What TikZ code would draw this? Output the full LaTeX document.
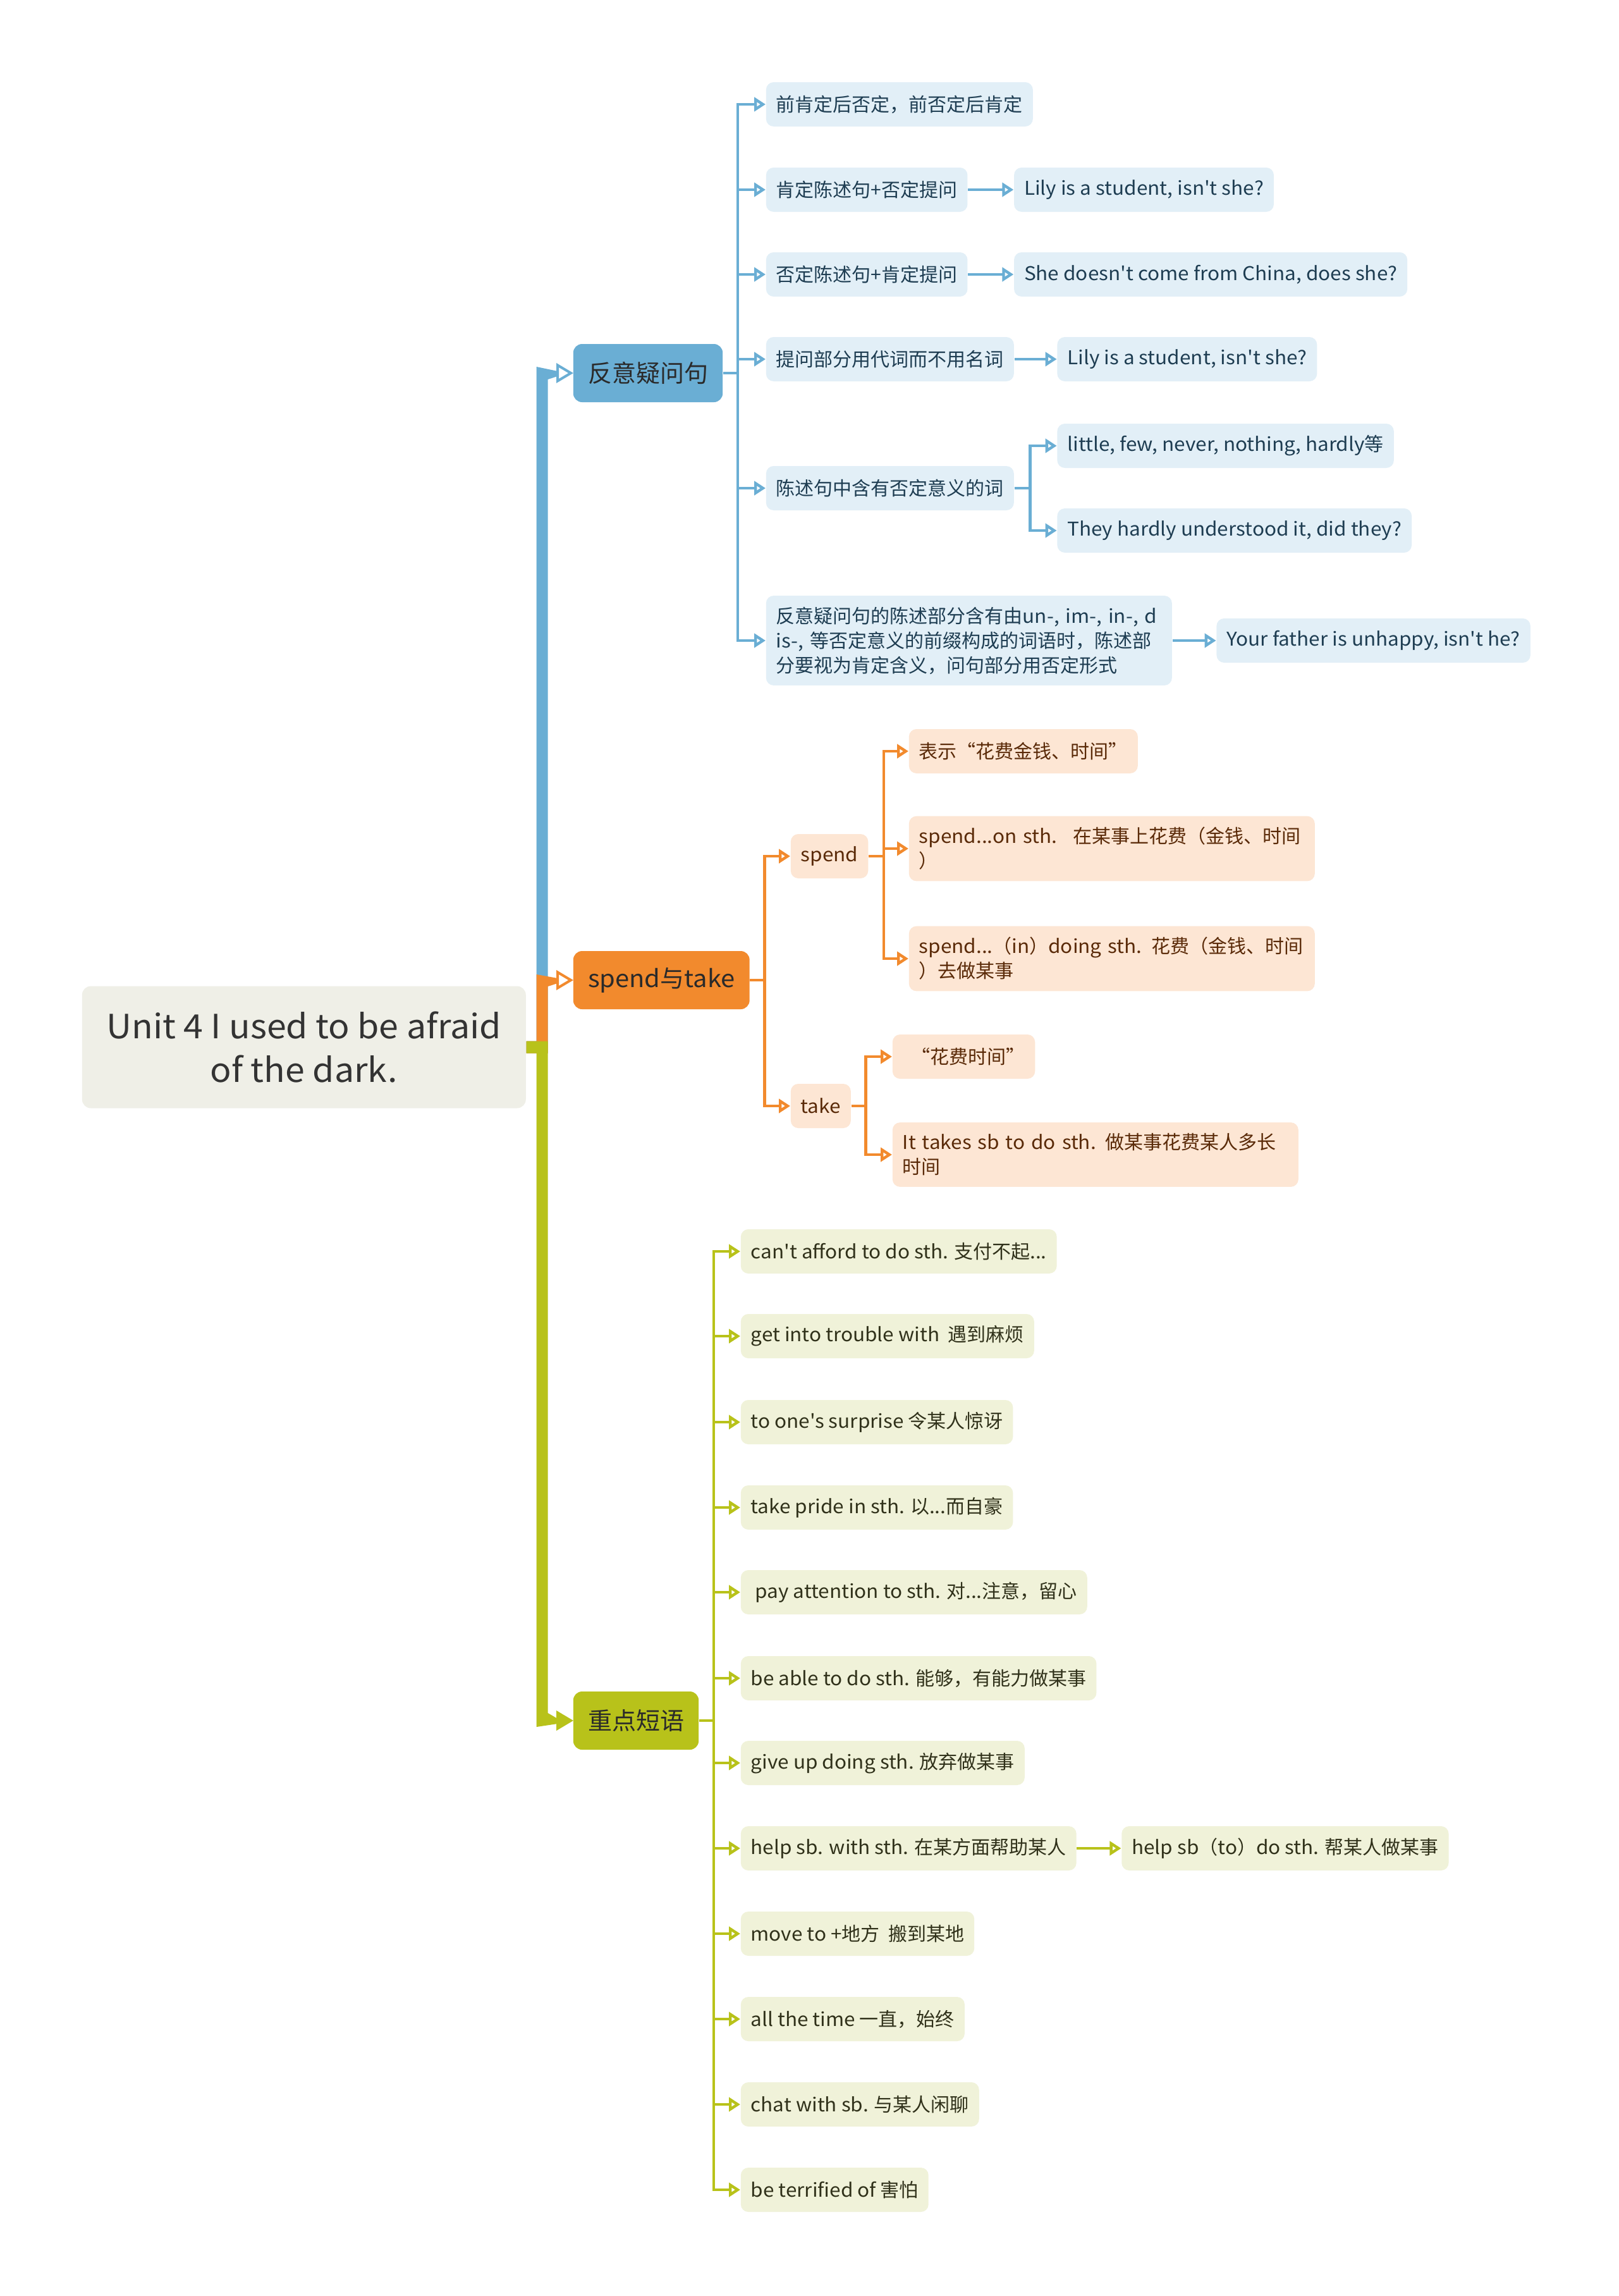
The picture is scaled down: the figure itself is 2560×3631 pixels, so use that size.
\documentclass[tikz,border=0pt]{standalone}
\usepackage{fontspec}
\newfontfamily\nf{Noto Sans CJK SC}
\newfontfamily\lf{Noto Sans CJK SC}[FakeStretch=1.05]
\newcommand\latn[1]{{\lf #1}}
\usetikzlibrary{arrows.meta,calc}
\definecolor{bl}{HTML}{6AAED4}
\definecolor{blfill}{HTML}{E2EFF7}
\definecolor{bltext}{HTML}{1E3D52}
\definecolor{orc}{HTML}{F28A2D}
\definecolor{orfill}{HTML}{FDE6D4}
\definecolor{ortext}{HTML}{5A2A08}
\definecolor{grc}{HTML}{B8C21A}
\definecolor{grfill}{HTML}{F0F2D9}
\definecolor{grtext}{HTML}{30311A}
\definecolor{rootfill}{HTML}{EFEFE7}
\definecolor{roottext}{HTML}{333333}
\definecolor{lvtext}{HTML}{2A2A2A}
\begin{document}
\begin{tikzpicture}[x=0.25pt,y=-0.25pt,
  leaf/.style={rounded corners=3pt, inner xsep=4pt, inner ysep=4.4pt, minimum height=17.5pt, anchor=west, align=left, font=\nf\fontsize{7.5pt}{9.75pt}\selectfont},
  leafb/.style={leaf, fill=blfill, text=bltext},
  leafo/.style={leaf, fill=orfill, text=ortext},
  leafg/.style={leaf, fill=grfill, text=grtext},
  wide/.style={text width=152.5pt},
  lvlone/.style={rounded corners=3.5pt, inner xsep=5.8pt, minimum height=23pt, anchor=west, text=lvtext, font=\nf\fontsize{9.5pt}{12pt}\selectfont},
  rootbox/.style={rounded corners=3.5pt, fill=rootfill, text=roottext, minimum width=175.5pt, minimum height=48.25pt, anchor=west, align=center, font=\nf\fontsize{13.2pt}{17.3pt}\selectfont},
  conn/.style={line width=1.1pt, -{Triangle[length=4.5pt,width=5.5pt,fill=white]}},
  connb/.style={conn, draw=bl},
  conno/.style={conn, draw=orc},
  conng/.style={conn, draw=grc},
  headw/.style={line width=1pt, line join=miter}
]
\fill[white] (0,0) rectangle (2560,3631);
\useasboundingbox (0,0) rectangle (2560,3631);

% root
\node[rootbox] (root) at (129,1656) {\latn{Unit 4 I used to be afraid}\\\latn{of the dark.}};

% level one
\node[lvlone, fill=bl] (q) at (906,590) {反意疑问句};
\node[lvlone, fill=orc] (o) at (906,1550) {\latn{spend}与\latn{take}};
\node[lvlone, fill=grc] (g) at (906,2721) {重点短语};

% blue leaves
\node[leafb] (b1) at (1211,165) {前肯定后否定，前否定后肯定};
\node[leafb] (b2) at (1211,300) {肯定陈述句+否定提问};
\node[leafb] (b3) at (1211,434) {否定陈述句+肯定提问};
\node[leafb] (b4) at (1211,568) {提问部分用代词而不用名词};
\node[leafb] (b5) at (1211,772) {陈述句中含有否定意义的词};
\node[leafb, wide] (b6) at (1211,1013) {\mbox{反意疑问句的陈述部分含有由\latn{un-, im-, in-, d}}\\\mbox{\latn{is-,} 等否定意义的前缀构成的词语时，陈述部}\\分要视为肯定含义，问句部分用否定形式};
\node[leafb] (b2x) at ($(b2.east)+(72,0)$) {\latn{Lily is a student, isn't she?}};
\node[leafb] (b3x) at ($(b3.east)+(72,0)$) {\latn{She doesn't come from China, does she?}};
\node[leafb] (b4x) at ($(b4.east)+(67,0)$) {\latn{Lily is a student, isn't she?}};
\node[leafb] (b5a) at ($(b5.east)+(67,-67)$) {\latn{little, few, never, nothing, hardly}等};
\node[leafb] (b5b) at ($(b5.east)+(67,67)$) {\latn{They hardly understood it, did they?}};
\node[leafb] (b6x) at ($(b6.east)+(69,0)$) {\latn{Your father is unhappy, isn't he?}};

% orange leaves
\node[leafo] (sp) at (1250,1354) {\latn{spend}};
\node[leafo] (tk) at (1250,1749) {\latn{take}};
\node[leafo] (s1) at (1437,1188) {表示“花费金钱、时间”};
\node[leafo, wide] (s2) at (1437,1342) {\mbox{\latn{spend...on sth.}~ 在某事上花费（金钱、时间}\\）};
\node[leafo, wide] (s3) at (1437,1516) {\mbox{\latn{spend...}（\latn{in}）\latn{doing sth.} 花费（金钱、时间}\\）去做某事};
\node[leafo] (t1) at (1411,1671) {~~“花费时间”};
\node[leafo, wide] (t2) at (1411,1826) {\mbox{\latn{It takes sb to do sth.} 做某事花费某人多长}\\时间};

% green leaves
\node[leafg] (p1) at (1171,1979) {\latn{can't afford to do sth.} 支付不起\latn{...}};
\node[leafg] (p2) at (1171,2113) {\latn{get into trouble with}~ 遇到麻烦};
\node[leafg] (p3) at (1171,2249) {\latn{to one's surprise} 令某人惊讶};
\node[leafg] (p4) at (1171,2384) {\latn{take pride in sth.} 以\latn{...}而自豪};
\node[leafg] (p5) at (1171,2518) {~\latn{pay attention to sth.} 对\latn{...}注意，留心};
\node[leafg] (p6) at (1171,2654) {\latn{be able to do sth.} 能够，有能力做某事};
\node[leafg] (p7) at (1171,2788) {\latn{give up doing sth.} 放弃做某事};
\node[leafg] (p8) at (1171,2923) {\latn{help sb. with sth.} 在某方面帮助某人};
\node[leafg] (p9) at (1171,3058) {\latn{move to +}地方~ 搬到某地};
\node[leafg] (p10) at (1171,3193) {\latn{all the time} 一直，始终};
\node[leafg] (p11) at (1171,3328) {\latn{chat with sb.} 与某人闲聊};
\node[leafg] (p12) at (1171,3463) {\latn{be terrified of} 害怕};
\node[leafg] (p8x) at ($(p8.east)+(70,0)$) {\latn{help sb}（\latn{to}）\latn{do sth.} 帮某人做某事};

% thick branches from root
\coordinate (rE) at (root.east);
\fill[bl] ($(rE)+(0,-9.5)$) -- ($(rE)+(16,-9.5)$) -- ($(rE |- q.west)+(16,-10)$)
  -- ($(q.west)+(-24,-3)$) -- ($(q.west)+(-24,5)$) -- ($(rE |- q.west)+(34,10)$)
  -- ($(rE)+(34,9.5)$) -- ($(rE)+(0,9.5)$) -- cycle;
\filldraw[headw, draw=bl, fill=white] ($(q.west)+(-24,-12.5)$) -- ($(q.west)+(-3,0)$) -- ($(q.west)+(-24,12.5)$) -- cycle;
\fill[orc] ($(rE)+(0,-9.5)$) -- ($(rE)+(16,-9.5)$) -- ($(rE |- o.west)+(16,-9)$)
  -- ($(o.west)+(-24,-3)$) -- ($(o.west)+(-24,5)$) -- ($(rE |- o.west)+(34,10)$)
  -- ($(rE)+(34,9.5)$) -- ($(rE)+(0,9.5)$) -- cycle;
\filldraw[headw, draw=orc, fill=white] ($(o.west)+(-24,-12.5)$) -- ($(o.west)+(-3,0)$) -- ($(o.west)+(-24,12.5)$) -- cycle;
\fill[grc] ($(rE)+(0,-9.5)$) -- ($(rE)+(34,-9.5)$) -- ($(rE |- g.west)+(34,-12)$)
  -- ($(g.west)+(-24,-3)$) -- ($(g.west)+(-24,5)$) -- ($(rE |- g.west)+(16,10)$)
  -- ($(rE)+(16,9.5)$) -- ($(rE)+(0,9.5)$) -- cycle;
\filldraw[headw, draw=grc, fill=grc] ($(g.west)+(-24,-12.5)$) -- ($(g.west)+(-3,0)$) -- ($(g.west)+(-24,12.5)$) -- cycle;

% blue connectors
\foreach \n in {b1,b2,b3,b4,b5,b6} \draw[connb] (q.east) -- ++(23,0) |- (\n.west);
\draw[connb] (b2.east) -- (b2x.west);
\draw[connb] (b3.east) -- (b3x.west);
\draw[connb] (b4.east) -- (b4x.west);
\draw[connb] (b5.east) -- ++(25,0) |- (b5a.west);
\draw[connb] (b5.east) -- ++(25,0) |- (b5b.west);
\draw[connb] (b6.east) -- (b6x.west);

% orange connectors
\foreach \n in {sp,tk} \draw[conno] (o.east) -- ++(23,0) |- (\n.west);
\foreach \n in {s1,s2,s3} \draw[conno] (sp.east) -- ++(24,0) |- (\n.west);
\foreach \n in {t1,t2} \draw[conno] (tk.east) -- ++(23,0) |- (\n.west);

% green connectors
\foreach \n in {p1,p2,p3,p4,p5,p6,p7,p8,p9,p10,p11,p12} \draw[conng] (g.east) -- ++(23,0) |- (\n.west);
\draw[conng] (p8.east) -- (p8x.west);
\end{tikzpicture}
\end{document}
